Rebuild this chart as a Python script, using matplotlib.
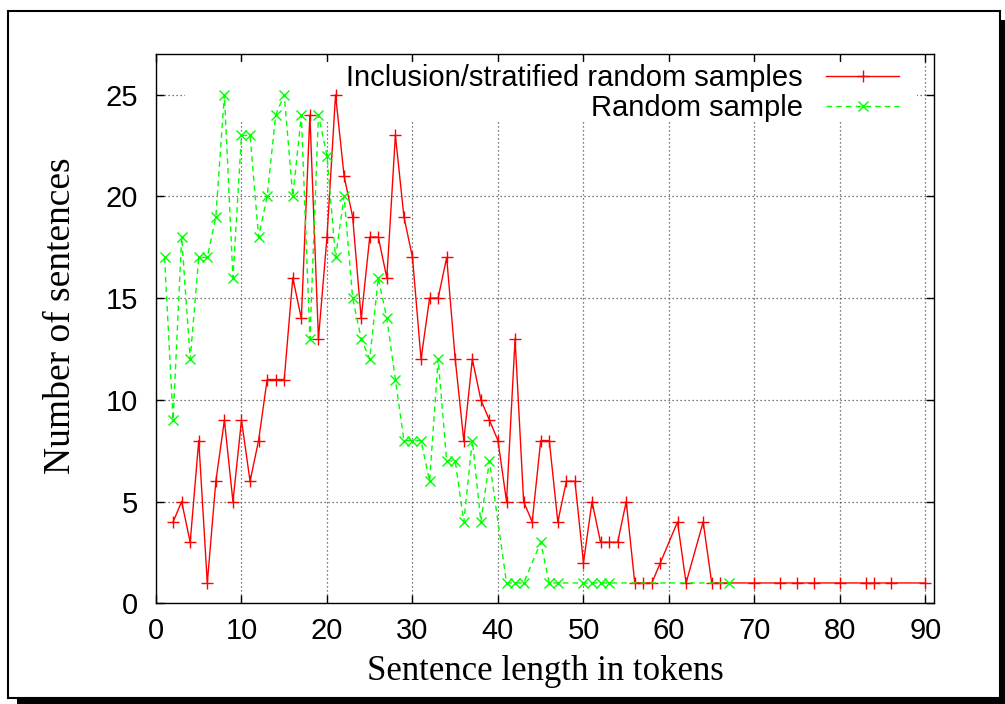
import matplotlib
matplotlib.use('Agg')
import matplotlib.pyplot as plt
from matplotlib.patches import Rectangle


# sentence length in tokens -> number of sentences
incl_len = [2, 3, 4, 5, 6, 7, 8, 9, 10, 11,
            12, 13, 14, 15, 16, 17, 18, 19, 20, 21,
            22, 23, 24, 25, 26, 27, 28, 29, 30, 31,
            32, 33, 34, 35, 36, 37, 38, 39, 40, 41,
            42, 43, 44, 45, 46, 47, 48, 49, 50, 51,
            52, 53, 54, 55, 56, 57, 58, 59,
            61, 62, 64, 65, 66,
            70, 73, 75, 77, 80, 83, 84, 86, 90]
incl_count = [4, 5, 3, 8, 1, 6, 9, 5, 9, 6,
              8, 11, 11, 11, 16, 14, 24, 13, 18, 25,
              21, 19, 14, 18, 18, 16, 23, 19, 17, 12,
              15, 15, 17, 12, 8, 12, 10, 9, 8, 5,
              13, 5, 4, 8, 8, 4, 6, 6, 2, 5,
              3, 3, 3, 5, 1, 1, 1, 2,
              4, 1, 4, 1, 1,
              1, 1, 1, 1, 1, 1, 1, 1, 1]

rand_len = [1, 2, 3, 4, 5, 6, 7, 8, 9, 10,
            11, 12, 13, 14, 15, 16, 17, 18, 19, 20,
            21, 22, 23, 24, 25, 26, 27, 28, 29, 30,
            31, 32, 33, 34, 35, 36, 37, 38, 39,
            41, 42, 43, 45, 46, 47, 50, 51, 52, 53, 67]
rand_count = [17, 9, 18, 12, 17, 17, 19, 25, 16, 23,
              23, 18, 20, 24, 25, 20, 24, 13, 24, 22,
              17, 20, 15, 13, 12, 16, 14, 11, 8, 8,
              8, 6, 12, 7, 7, 4, 8, 4, 7,
              1, 1, 1, 3, 1, 1, 1, 1, 1, 1, 1]

labels = ['Inclusion/stratified random samples', 'Random sample']
x_ticks = [0, 10, 20, 30, 40, 50, 60, 70, 80, 90]
y_ticks = [0, 5, 10, 15, 20, 25]

W, H = 1005, 704


def px_rect(x0, y0, x1, y1, **kw):
    # pixel box, origin top left -> figure fraction
    return Rectangle((x0 / W, 1 - y1 / H), (x1 - x0) / W, (y1 - y0) / H, **kw)


def main():
    plt.rcParams['font.family'] = ['Liberation Sans', 'DejaVu Sans']

    fig = plt.figure(figsize=(W / 100, H / 100), dpi=100)

    # page frame with drop shadow
    fig.add_artist(px_rect(17, 20, 1012, 712, transform=fig.transFigure,
                           facecolor='black', edgecolor='none', zorder=-2))
    fig.add_artist(px_rect(8, 11, 1000, 698, transform=fig.transFigure,
                           facecolor='white', edgecolor='black', lw=1.5, zorder=-1))

    ax = fig.add_axes([156 / W, 1 - 603.3 / H, 778 / W, 549.3 / H])
    ax.set_xlim(0, 91)
    ax.set_ylim(0, 27)

    ax.set_axisbelow(True)
    ax.grid(True, color='0.3', linestyle=(0, (1, 2.2)), linewidth=0.9)
    # key area blanks the grid, like gnuplot does
    ax.add_patch(Rectangle((0.0373, 0.878), 0.9407, 0.1075, transform=ax.transAxes,
                           facecolor='white', edgecolor='none', zorder=1))

    ax.plot(incl_len, incl_count, color='#ff0000', lw=1.0, marker='+',
            ms=8, mew=1.0, label=labels[0], zorder=2)
    ax.plot(rand_len, rand_count, color='#00ff00', lw=1.0, ls=(0, (4, 3)),
            marker='x', ms=6.5, mew=1.0, label=labels[1], zorder=3)

    ax.set_xticks(x_ticks)
    ax.set_yticks(y_ticks)
    ax.tick_params(direction='in', length=6, width=1, top=True, right=True,
                   labelsize=21)
    ax.tick_params(axis='x', pad=10)
    ax.tick_params(axis='y', pad=13)
    for s in ax.spines.values():
        s.set_linewidth(1.0)

    ax.set_xlabel('Sentence length in tokens', family='Liberation Serif', fontsize=25)
    ax.set_ylabel('Number of sentences', family='Liberation Serif', fontsize=27)
    ax.xaxis.set_label_coords(0.5, -0.095)
    ax.yaxis.set_label_coords(-0.10, 0.523)

    ax.legend(loc='upper right', bbox_to_anchor=(0.955, 0.981), markerfirst=False,
              frameon=False, prop={'family': 'Liberation Sans', 'size': 21},
              handlelength=2.5, handletextpad=0.8, labelspacing=0.06,
              borderpad=0, borderaxespad=0, numpoints=1)

    fig.savefig('out.png', dpi=100)


if __name__ == '__main__':
    main()
